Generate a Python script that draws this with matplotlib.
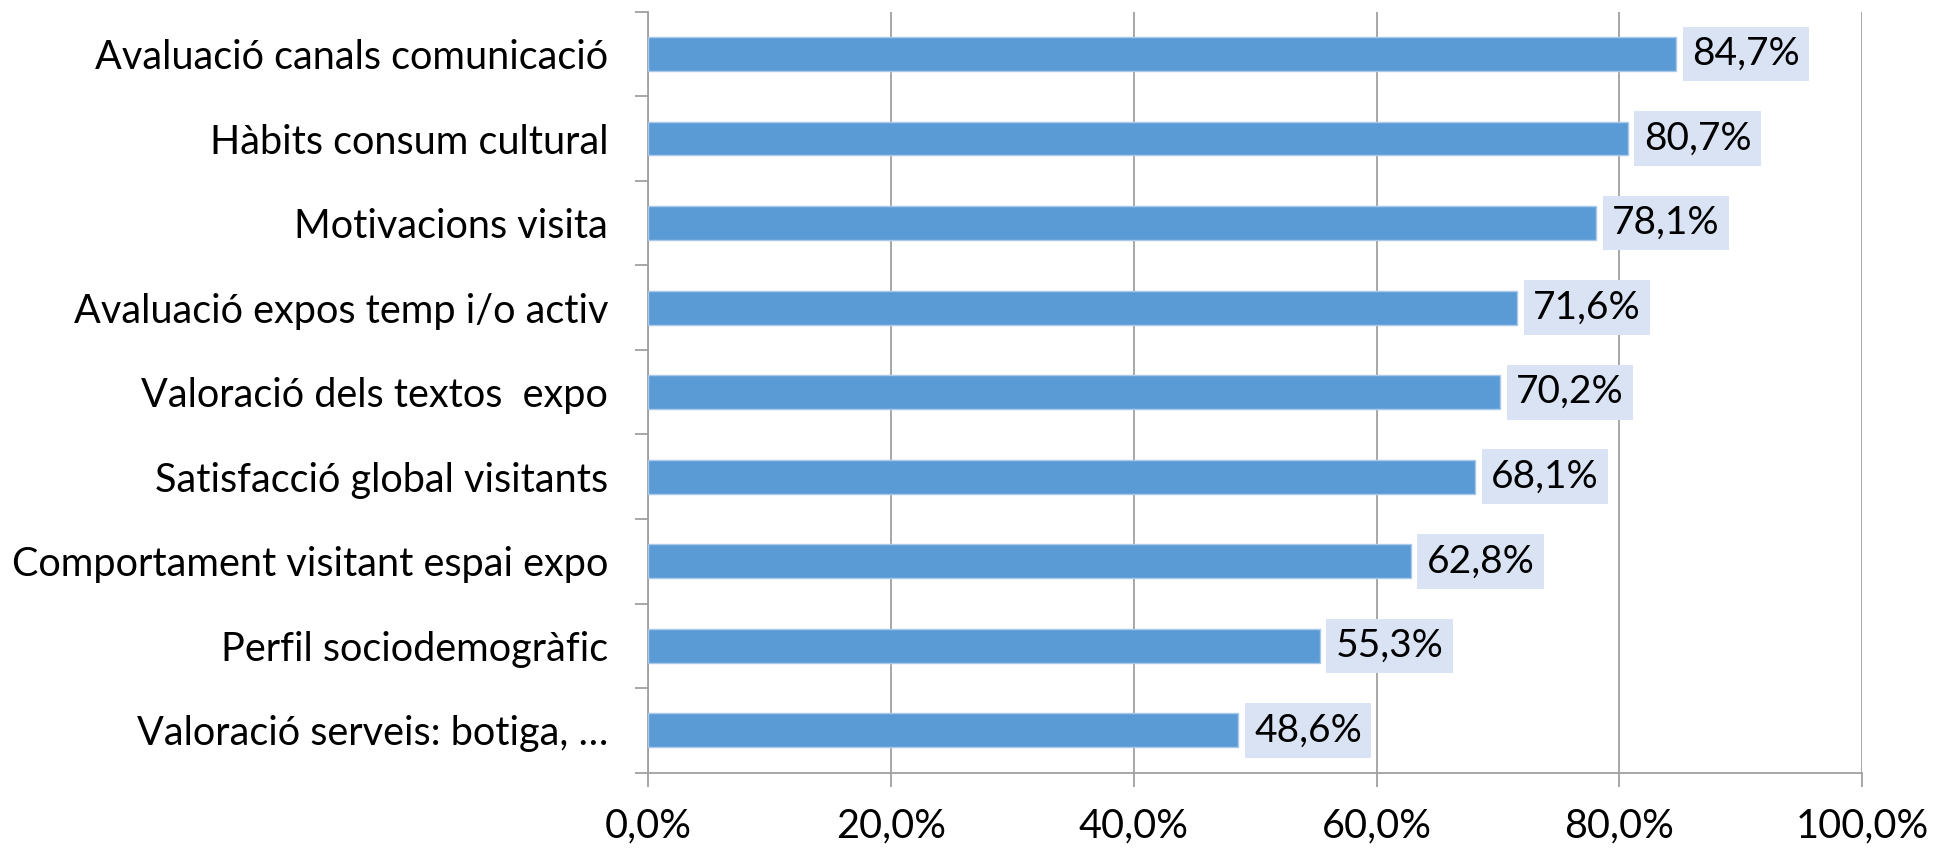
import matplotlib.pyplot as plt
import numpy as np

# survey blocks and completion percentages, top to bottom
categories = [
    "Avaluació canals comunicació",
    "Hàbits consum cultural",
    "Motivacions visita",
    "Avaluació expos temp i/o activ",
    "Valoració dels textos  expo",
    "Satisfacció global visitants",
    "Comportament visitant espai expo",
    "Perfil sociodemogràfic",
    "Valoració serveis: botiga, …",
]
values = [84.7, 80.7, 78.1, 71.6, 70.2, 68.1, 62.8, 55.3, 48.6]
xticks = [0, 20, 40, 60, 80, 100]

plt.rcParams['font.family'] = ['Lato', 'DejaVu Sans']

BAR = '#5B9BD5'
GRID = '#A0A0A0'

fig = plt.figure(figsize=(19.41, 8.49), dpi=100)
ax = fig.add_axes([0.3341, 0.0899, 0.9593 - 0.3341, 0.9862 - 0.0899])

y = np.arange(len(categories))
ax.barh(y, values, height=0.4, color=BAR, edgecolor='#A9C9EA', linewidth=1, zorder=3)

for yi, v in zip(y, values):
    ax.annotate(f"{v:.1f}%".replace('.', ','), xy=(v, yi), xytext=(11.5, 0),
                textcoords='offset points', ha='left', va='center',
                fontsize=28, color='black', zorder=4,
                bbox=dict(boxstyle='square,pad=0.24', fc='#DAE3F3', ec='none'))

ax.set_xlim(0, 100)
ax.set_ylim(len(categories) - 0.5, -0.5)

ax.set_xticks(xticks)
ax.set_xticklabels([f"{t:.1f}%".replace('.', ',') for t in xticks], fontsize=28.5)
ax.tick_params(axis='x', length=10, width=1.3, color=GRID, pad=15)

ax.set_yticks(y)
ax.set_yticklabels(categories, fontsize=28.5)
ax.set_yticks(np.arange(len(categories) + 1) - 0.5, minor=True)
ax.tick_params(axis='y', which='major', length=0, pad=29)
ax.tick_params(axis='y', which='minor', length=9.5, width=1.3, color=GRID)

ax.grid(axis='x', color=GRID, linewidth=1.3, zorder=0)
for side in ['top', 'right']:
    ax.spines[side].set_visible(False)
for side in ['left', 'bottom']:
    ax.spines[side].set_color(GRID)
    ax.spines[side].set_linewidth(1.3)

fig.savefig('out.png', dpi=100)
